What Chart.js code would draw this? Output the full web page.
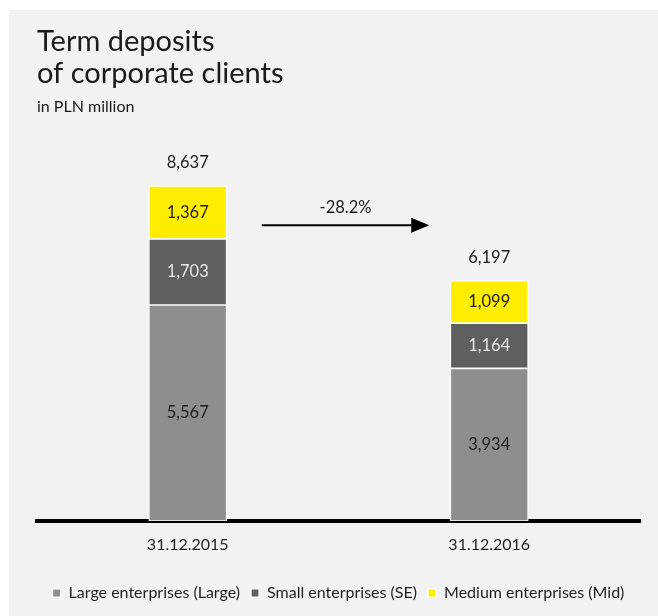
<!DOCTYPE html>
<html>
<head>
<meta charset="utf-8">
<script src="https://cdn.jsdelivr.net/npm/chart.js@4.4.1/dist/chart.umd.min.js"></script>
<style>
  html, body { margin: 0; padding: 0; background: #ffffff; }
  canvas { display: block; }
</style>
</head>
<body>
<canvas id="depositsChart" width="658" height="616"></canvas>
<script>
const dates = ["31.12.2015", "31.12.2016"];
const largeValues = [5567, 3934];
const smallValues = [1703, 1164];
const mediumValues = [1367, 1099];
const changeLabel = "-28.2%";

const fontFamily = "Lato, 'Noto Sans', sans-serif";
const ctx = document.getElementById("depositsChart").getContext("2d");

// light grey panel behind everything
const panelPlugin = {
  id: "panel",
  beforeDraw(chart) {
    const c = chart.ctx;
    c.save();
    c.fillStyle = "#f2f2f2";
    c.fillRect(9, 10, chart.width - 9, chart.height - 10);
    c.restore();
  }
};

// segment values, totals and the change arrow
const labelsPlugin = {
  id: "barLabels",
  afterDatasetsDraw(chart) {
    const c = chart.ctx;
    const yScale = chart.scales.y;
    c.save();
    c.font = "16.5px " + fontFamily;
    c.textAlign = "center";
    c.textBaseline = "middle";

    chart.data.datasets.forEach((ds, i) => {
      const meta = chart.getDatasetMeta(i);
      meta.data.forEach((bar, j) => {
        c.fillStyle = ds.labelColor;
        c.fillText(ds.data[j].toLocaleString("en-US"), bar.x, (bar.y + bar.base) / 2);
      });
    });

    const first = chart.getDatasetMeta(0).data;
    dates.forEach((d, j) => {
      const total = largeValues[j] + smallValues[j] + mediumValues[j];
      c.fillStyle = "#1a1a1a";
      c.fillText(total.toLocaleString("en-US"), first[j].x, yScale.getPixelForValue(total) - 23);
    });

    // arrow between the two bars
    const x0 = first[0].x + first[0].width / 2 + 35;
    const x1 = first[1].x - first[1].width / 2 - 21;
    const ay = yScale.getPixelForValue(7620);
    c.strokeStyle = "#000";
    c.lineWidth = 2;
    c.beginPath();
    c.moveTo(x0, ay);
    c.lineTo(x1 - 14, ay);
    c.stroke();
    c.fillStyle = "#000";
    c.beginPath();
    c.moveTo(x1, ay);
    c.lineTo(x1 - 18, ay - 7.5);
    c.lineTo(x1 - 18, ay + 7.5);
    c.closePath();
    c.fill();
    c.fillStyle = "#1a1a1a";
    c.fillText(changeLabel, (x0 + x1) / 2, ay - 18);
    c.restore();
  }
};

new Chart(ctx, {
  type: "bar",
  data: {
    labels: dates,
    datasets: [
      { label: "Large enterprises (Large)", data: largeValues, backgroundColor: "#8e8e8e", labelColor: "#1f1f1f" },
      { label: "Small enterprises (SE)", data: smallValues, backgroundColor: "#5f5f5f", labelColor: "#e6e6e6" },
      { label: "Medium enterprises (Mid)", data: mediumValues, backgroundColor: "#ffed00", labelColor: "#1f1f1f" }
    ]
  },
  options: {
    responsive: false,
    animation: false,
    datasets: {
      bar: { barThickness: 78, borderColor: "#ffffff", borderWidth: 1.2, borderSkipped: false }
    },
    layout: { padding: { left: 37, right: 18, top: 0, bottom: 5 } },
    plugins: {
      tooltip: { enabled: false },
      title: {
        display: true,
        align: "start",
        text: ["Term deposits", "of corporate clients"],
        color: "#1a1a1a",
        font: { family: fontFamily, size: 29, weight: "normal", lineHeight: 1.1 },
        padding: { top: 26, bottom: 0 }
      },
      subtitle: {
        display: true,
        align: "start",
        text: "in PLN million",
        color: "#1a1a1a",
        font: { family: fontFamily, size: 16, weight: "normal", lineHeight: 1.2 },
        padding: { top: 7, bottom: 17 }
      },
      legend: {
        position: "bottom",
        labels: {
          boxWidth: 8,
          boxHeight: 8,
          padding: 11,
          color: "#1f1f1f",
          font: { family: fontFamily, size: 16 }
        }
      }
    },
    scales: {
      x: {
        stacked: true,
        grid: { display: false, drawTicks: false },
        border: { display: true, color: "#000000", width: 4 },
        ticks: { color: "#1f1f1f", padding: 14, font: { family: fontFamily, size: 16 } },
        afterFit(scale) { scale.height = 53; }
      },
      y: {
        stacked: true,
        display: false,
        min: 0,
        max: 10000
      }
    }
  },
  plugins: [panelPlugin, labelsPlugin]
});
</script>
</body>
</html>
